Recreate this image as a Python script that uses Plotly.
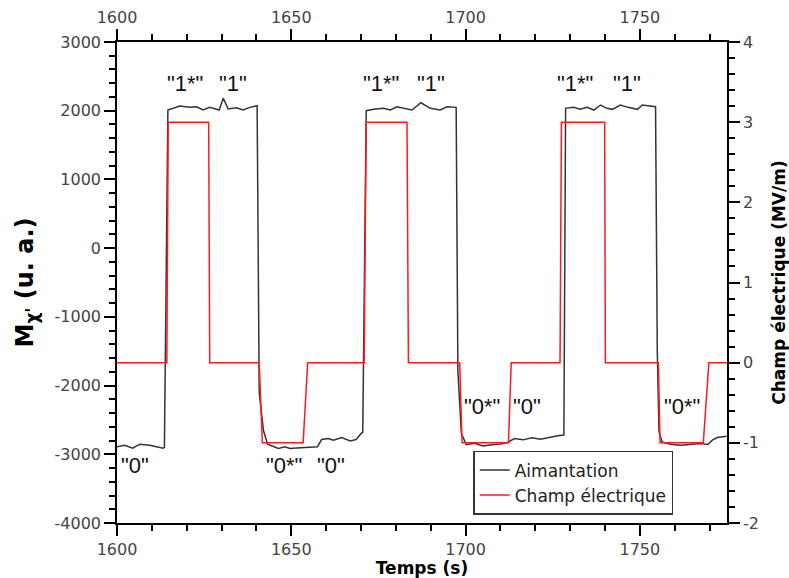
import plotly.graph_objects as go

# ---------------- data ----------------
# Magnetization (left axis, u. a.) vs time (s)
t_mag = [1600.0, 1602.2, 1604.5, 1606.5, 1609.4, 1613.2, 1613.6,
         1614.6, 1618.0, 1620.9, 1622.8, 1624.7, 1626.6, 1629.3, 1630.5, 1631.9,
         1634.3, 1636.2, 1638.1, 1640.2, 1640.8, 1642.0, 1643.2,
         1646.3, 1648.2, 1649.6, 1651.6, 1657.5, 1658.7, 1660.6, 1662.1, 1664.5,
         1666.9, 1668.6, 1670.2, 1670.5,
         1671.5, 1673.6, 1676.4, 1678.4, 1680.3, 1682.2, 1684.6, 1687.2, 1689.9,
         1692.7, 1694.7, 1697.3, 1697.8, 1698.8, 1700.2,
         1702.5, 1705.0, 1707.5, 1710.0, 1712.0, 1714.0, 1716.5, 1719.0, 1721.5,
         1724.0, 1726.5, 1728.2,
         1728.7, 1731.0, 1732.9, 1734.9, 1736.8, 1738.7, 1740.6, 1742.1, 1744.4,
         1746.6, 1749.3, 1750.7, 1752.6, 1754.5, 1755.0, 1755.5, 1756.4,
         1758.8, 1761.7, 1764.6, 1767.4, 1769.5, 1770.8, 1772.2, 1774.9]
m_mag = [-2892, -2868, -2911, -2853, -2868, -2911, -2900,
         2010, 2068, 2049, 2058, 2010, 2049, 2010, 2180, 2025,
         2043, 2010, 2049, 2073, -2100, -2650, -2853,
         -2916, -2892, -2916, -2907, -2892, -2785, -2770, -2795, -2756,
         -2805, -2785, -2689, -2680,
         2000, 2020, 2035, 2010, 2058, 2035, 2010, 2116, 2035,
         2010, 2058, 2049, -1800, -2700, -2860,
         -2840, -2880, -2860, -2850, -2830, -2770, -2790, -2760, -2780,
         -2750, -2730, -2720,
         2035, 2049, 2020, 2049, 2010, 2083, 2035, 2020, 2083,
         2049, 2020, 2083, 2068, 2058, -1500, -2674, -2820,
         -2853, -2868, -2853, -2843, -2858, -2795, -2756, -2737]

# Electric field (right axis, MV/m) vs time (s)
t_field = [1600, 1614.3, 1614.7, 1626.3, 1626.6, 1640.8, 1641.7, 1653.4, 1654.7,
           1670.9, 1671.5, 1683.2, 1683.6, 1698.3, 1699.0, 1712.3, 1713.1,
           1727.1, 1727.5, 1739.9, 1740.1, 1755.3, 1755.8, 1768.2, 1769.8, 1775]
e_field = [0, 0, 3, 3, 0, 0, -1, -1, 0,
           0, 3, 3, 0, 0, -1, -1, 0,
           0, 3, 3, 0, 0, -1, -1, 0, 0]

# state labels
lab_text = ['"1*"', '"1"', '"1*"', '"1"', '"1*"', '"1"',
            '"0"', '"0*"', '"0"', '"0*"', '"0"', '"0*"']
lab_t = [1619.4, 1633.3, 1675.7, 1690.1, 1731.5, 1746.2,
         1605.1, 1647.9, 1661.4, 1704.8, 1717.7, 1762.2]
lab_m = [2400, 2400, 2400, 2400, 2400, 2400,
         -3160, -3160, -3160, -2310, -2310, -2310]

# ticks
x_ticks = [1600, 1650, 1700, 1750]
y1_ticks = [-4000, -3000, -2000, -1000, 0, 1000, 2000, 3000]
y1_labels = ["-4000", "-3000", "-2000", "-1000", "0", "1000", "2000", "3000"]
y2_ticks = [-2, -1, 0, 1, 2, 3, 4]
y2_labels = ["-2", "-1", "0", "1", "2", "3", "4"]

# ---------------- figure ----------------
fig = go.Figure()
fig.add_trace(go.Scatter(x=t_mag, y=m_mag, mode="lines", name="Aimantation",
                         line=dict(color="#333333", width=1.5),
                         xaxis="x", yaxis="y"))
fig.add_trace(go.Scatter(x=t_field, y=e_field, mode="lines", name="Champ électrique",
                         line=dict(color="#ff1a1a", width=1.5),
                         xaxis="x2", yaxis="y2"))

for txt, tx, my in zip(lab_text, lab_t, lab_m):
    fig.add_annotation(x=tx, y=my, xref="x", yref="y", text=txt, showarrow=False,
                       font=dict(family="Liberation Sans", size=22, color="#111111"))

tickfont = dict(family="DejaVu Sans", size=16, color="#444444")
common = dict(showline=True, linecolor="black", linewidth=1.5, showgrid=False,
              zeroline=False, ticks="outside", ticklen=11, tickwidth=1.5,
              tickcolor="black", tickfont=tickfont, automargin=False)

xminor = [1600 + 10 * i for i in range(18)]
y1minor = [-4000 + 200 * i for i in range(36)]
y2minor = [round(-2 + 0.2 * i, 2) for i in range(31)]

fig.update_layout(
    width=789, height=578,
    margin=dict(l=117, r=62, t=42, b=55, autoexpand=False),
    paper_bgcolor="white", plot_bgcolor="white",
    font=dict(family="DejaVu Sans"),
    xaxis=dict(range=[1600, 1775], tickmode="array", tickvals=x_ticks,
               title=dict(text="<b>Temps (s)</b>", font=dict(size=17, color="black"),
                          standoff=4),
               minor=dict(tickmode="array", tickvals=xminor, ticks="outside",
                          ticklen=6, tickcolor="black", tickwidth=1.5),
               **common),
    xaxis2=dict(range=[1600, 1775], overlaying="x", side="top", matches="x",
                tickmode="array", tickvals=x_ticks,
                minor=dict(tickmode="array", tickvals=xminor, ticks="outside",
                           ticklen=6, tickcolor="black", tickwidth=1.5),
                **common),
    yaxis=dict(range=[-4000, 3000], tickmode="array", tickvals=y1_ticks,
               ticktext=y1_labels,
               title=dict(text="<b>M<sub>χ'</sub> (u. a.)</b>",
                          font=dict(size=24, color="black"), standoff=14),
               minor=dict(tickmode="array", tickvals=y1minor, ticks="outside",
                          ticklen=6, tickcolor="black", tickwidth=1.5),
               **common),
    yaxis2=dict(range=[-2, 4], overlaying="y", side="right", anchor="x",
                tickmode="array", tickvals=y2_ticks, ticktext=y2_labels,
                title=dict(text="<b>Champ électrique (MV/m)</b>",
                           font=dict(size=17, color="black"), standoff=15),
                minor=dict(tickmode="array", tickvals=y2minor, ticks="outside",
                           ticklen=6, tickcolor="black", tickwidth=1.5),
                **common),
    legend=dict(x=0.584, y=0.15, xanchor="left", yanchor="top",
                bgcolor="white", bordercolor="#333333", borderwidth=1.5,
                font=dict(family="DejaVu Sans", size=17, color="#222222"),
                itemwidth=30, tracegroupgap=2),
    showlegend=True,
)

fig.write_html("out.html", config={"displayModeBar": False},
               post_script="document.body.style.margin='0';document.body.style.overflow='hidden';")
